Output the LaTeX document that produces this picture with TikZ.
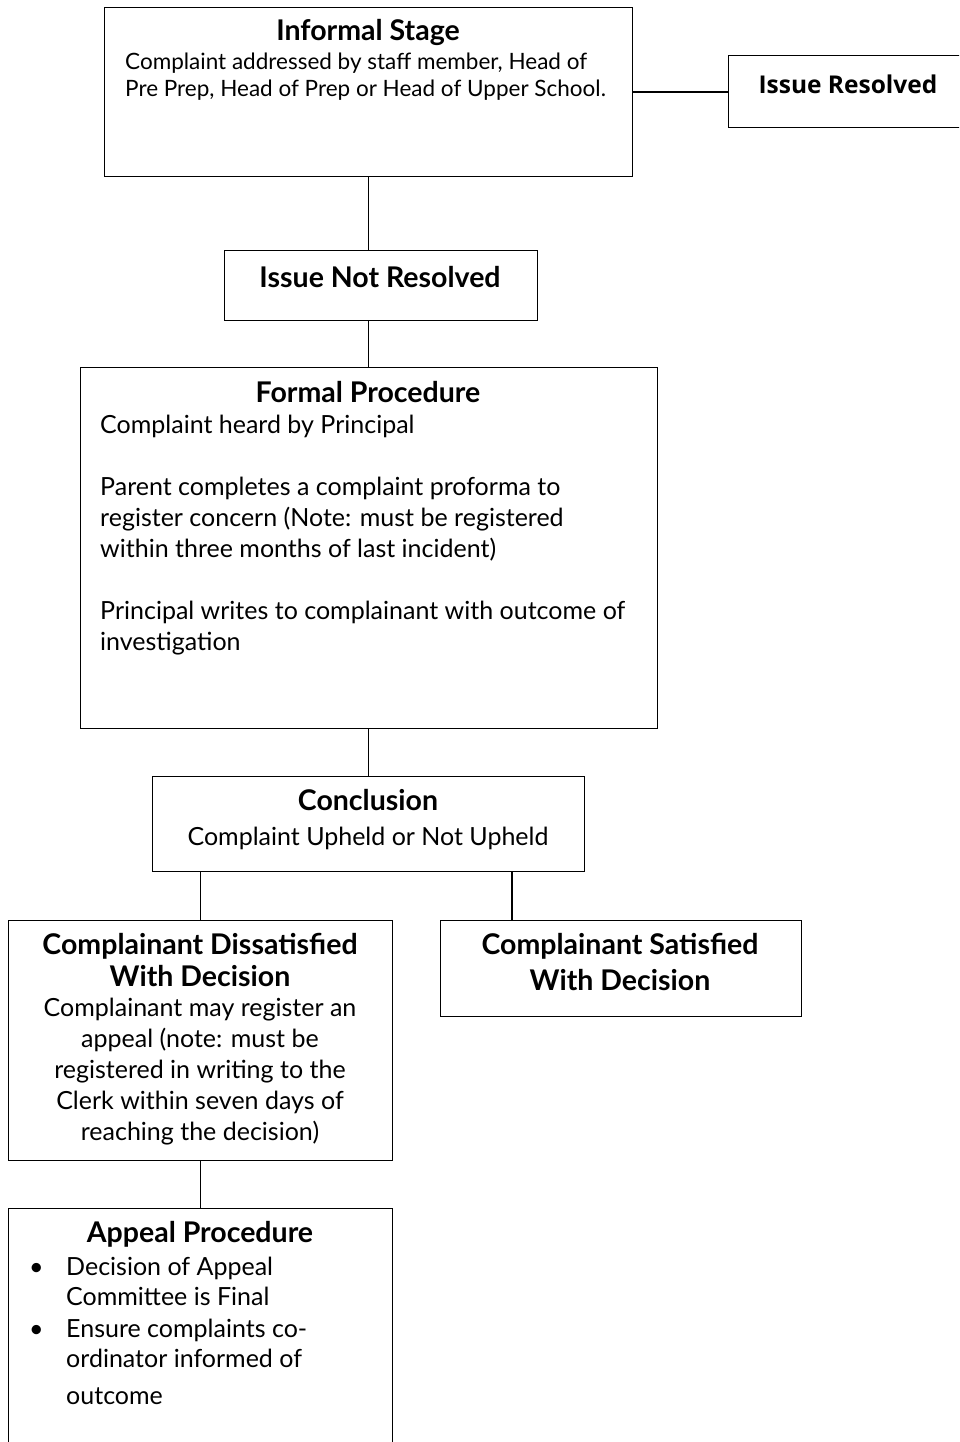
\documentclass[tikz,border=0pt]{standalone}
\usepackage{fontspec}
\setmainfont{Lato}
\newfontfamily\resfont{Open Sans}
\usetikzlibrary{calc}
\tikzset{
 box/.style={draw, line width=1.4pt, rectangle, inner sep=0pt, anchor=north west},
 conn/.style={line width=1.4pt},
 ttl/.style={font=\bfseries\fontsize{28.5}{32}\selectfont, anchor=base, inner sep=0pt},
 txt/.style={font=\fontsize{25}{30}\selectfont, anchor=base west, inner sep=0pt},
 stxt/.style={font=\fontsize{22.5}{28}\selectfont, anchor=base west, inner sep=0pt},
 ctxt/.style={font=\fontsize{25}{30}\selectfont, anchor=base, inner sep=0pt},
}
\begin{document}
\begin{tikzpicture}[x=1pt,y=-1pt]
\useasboundingbox (0,0) rectangle (959,1442);
\clip (0,0) rectangle (959,1442);
% boxes
\node[box, minimum width=528pt, minimum height=169pt] (inf) at (104,7) {};
\node[box, minimum width=247pt, minimum height=72pt] (res) at (728,55) {};
\node[box, minimum width=313pt, minimum height=70pt] (nr) at (224,250) {};
\node[box, minimum width=577pt, minimum height=361pt] (fp) at (80,367) {};
\node[box, minimum width=432pt, minimum height=95pt] (con) at (152,776) {};
\node[box, minimum width=384pt, minimum height=240pt] (dis) at (8,920) {};
\node[box, minimum width=361pt, minimum height=96pt] (sat) at (440,920) {};
\node[box, minimum width=384pt, minimum height=260pt] (app) at (8,1208) {};
% connectors
\draw[conn] (inf.east) -- (res.west |- inf.east);
\draw[conn] (inf.south) -- (inf.south |- nr.north);
\draw[conn] (inf.south |- nr.south) -- (inf.south |- fp.north);
\draw[conn] (inf.south |- fp.south) -- (inf.south |- con.north);
\draw[conn] (dis.north |- con.south) -- (dis.north);
\coordinate (c2) at ($(con.south west)+(360,0)$);
\draw[conn] (c2) -- (c2 |- sat.north);
\draw[conn] (dis.south) -- (app.north);
% texts: informal
\node[ttl] (inf-t) at (368,41) {Informal Stage};
\node[stxt] (inf-1) at (125,70) {Complaint addressed by staff member, Head of};
\node[stxt] (inf-2) at (125,97) {Pre Prep, Head of Prep or Head of Upper School.};
% issue resolved
\node[ttl, font=\resfont\bfseries\fontsize{24.5}{28}\selectfont] (res-t) at (848,94) {Issue Resolved};
\node[ttl] (nr-t) at (380,287) {Issue Not Resolved};
% formal
\node[ttl] (fp-t) at (368,402) {Formal Procedure};
\node[txt] (fp-1) at (100,433) {Complaint heard by Principal};
\node[txt] (fp-2) at (100,495) {Parent completes a complaint proforma to};
\node[txt] (fp-3) at (100,526) {register concern (Note: must be registered};
\node[txt] (fp-4) at (100,557) {within three months of last incident)};
\node[txt] (fp-5) at (100,619) {Principal writes to complainant with outcome of};
\node[txt] (fp-6) at (100,650) {investigation};
% conclusion
\node[ttl] (con-t) at (368,810) {Conclusion};
\node[ctxt] (con-1) at (368,845) {Complaint Upheld or Not Upheld};
% dissatisfied
\node[ttl] (dis-t1) at (200,954) {Complainant Dissatisfied};
\node[ttl] (dis-t2) at (200,986) {With Decision};
\node[ctxt] (dis-1) at (200,1016) {Complainant may register an};
\node[ctxt] (dis-2) at (200,1047) {appeal (note: must be};
\node[ctxt] (dis-3) at (200,1078) {registered in writing to the};
\node[ctxt] (dis-4) at (200,1109) {Clerk within seven days of};
\node[ctxt] (dis-5) at (200,1140) {reaching the decision)};
% satisfied
\node[ttl] (sat-t1) at (620,954) {Complainant Satisfied};
\node[ttl] (sat-t2) at (620,990) {With Decision};
% appeal
\node[ttl] (app-t) at (200,1242) {Appeal Procedure};
\node[txt] (app-b1) at (29,1275) {•};
\node[txt] (app-1) at (66,1275) {Decision of Appeal};
\node[txt] (app-2) at (66,1305) {Committee is Final};
\node[txt] (app-b2) at (29,1337) {•};
\node[txt] (app-3) at (66,1337) {Ensure complaints co-};
\node[txt] (app-4) at (66,1367) {ordinator informed of};
\node[txt] (app-5) at (66,1404) {outcome};
\end{tikzpicture}
\end{document}
